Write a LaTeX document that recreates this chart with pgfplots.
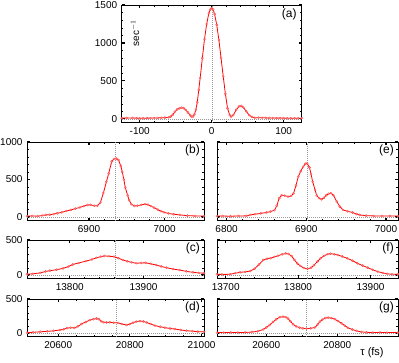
\documentclass[border=0pt]{standalone}
\usepackage{fontspec}
\setmainfont{Liberation Sans}
\usepackage{pgfplots}
\pgfplotsset{compat=1.18}

\pgfplotsset{
  panel/.style={
    scale only axis,
    axis line style={black, line width=0.6pt},
    tick align=inside,
    major tick length=3pt, minor tick length=1.6pt,
    every major tick/.append style={line width=1.1pt, black},
    every minor tick/.append style={line width=0.4pt, black},
    minor x tick num=4, minor y tick num=4,
    tick label style={font=\fontsize{10}{10}\selectfont},
    scaled x ticks=false, scaled y ticks=false,
    /pgf/number format/assume math mode=true,
    /pgf/number format/1000 sep={},
    xticklabel style={yshift=-1pt},
    yticklabel style={xshift=-1pt},
    ymin=-50, clip=true,
  },
  right panel/.style={panel, yticklabels=\empty},
  sig/.style={red, line width=0.8pt, mark=*, mark size=1.1pt,
    mark options={fill=red!25, draw=red!75, line width=0.3pt, fill opacity=0.6}},
}
\tikzset{
  ref/.style={gray!80, dash pattern=on 1pt off 1pt, line width=0.35pt},
  tag/.style={anchor=north east, inner sep=0pt, font=\fontsize{12}{12}\selectfont},
}

\begin{document}
\begin{tikzpicture}[x=1pt, y=1pt]
\path[use as bounding box] (0,0) rectangle (399,362);

% (a)
\begin{axis}[panel, at={(121.7pt,239.3pt)}, anchor=south west,
  width=180pt, height=117.7pt,
  xmin=-125, xmax=125, ymax=1500,
  xtick={-100,0,100}, ytick={0,500,1000,1500}]
\draw[ref] (axis cs:-125,0) -- (axis cs:125,0);
\draw[ref] (axis cs:0,-50) -- (axis cs:0,1500);
\addplot[sig] coordinates {
(-125,10)(-118,12)(-110,12)(-104,9)(-100,8)(-95,9)(-90,10)(-85,11)(-80,12)(-75,13)
(-70,15)(-65,17)(-60,20)(-57,30)(-54,55)(-51,95)(-48,125)(-45,140)(-42,148)(-39,142)
(-36,118)(-33,85)(-30,50)(-28,30)(-26,32)(-24,60)(-22,120)(-20,220)(-18,380)(-16,540)
(-13,800)(-10,1050)(-7,1250)(-4,1390)(-2,1440)(0,1460)(2,1440)(4,1380)(7,1240)(10,1040)
(13,800)(16,560)(19,330)(22,140)(25,50)(27,30)(30,50)(34,120)(38,165)(41,170)
(44,150)(48,100)(52,50)(56,25)(60,15)(65,16)(70,15)(75,14)(80,12)(85,12)(90,10)
(95,11)(100,10)(105,9)(110,8)(115,9)(120,8)(125,10)};
\node[tag] at (rel axis cs:1,1) [xshift=-5pt, yshift=-4pt] {(a)};
\node[rotate=90, font=\fontsize{10}{10}\selectfont] at (axis cs:-106.5,1130) {sec$^{-1}$};
\end{axis}

% (b)
\begin{axis}[panel, at={(27pt,141.25pt)}, anchor=south west,
  width=177pt, height=78.75pt,
  xmin=6818, xmax=7052, ymax=1000,
  xtick={6900,7000}, ytick={0,500,1000}]
\draw[ref] (axis cs:6818,0) -- (axis cs:7052,0);
\draw[ref] (axis cs:6935,-50) -- (axis cs:6935,1000);
\addplot[sig] coordinates {
(6818,12)(6825,15)(6832,10)(6838,20)(6843,28)(6848,30)(6853,38)(6858,50)(6864,62)(6870,80)
(6876,95)(6882,112)(6888,128)(6893,145)(6898,160)(6902,162)(6907,150)(6911,150)(6915,190)
(6919,320)(6923,470)(6926,580)(6930,740)(6933,775)(6936,780)(6939,760)(6942,680)(6944,600)
(6946,500)(6948,390)(6951,290)(6953,225)(6956,170)(6960,148)(6964,150)(6969,162)(6974,172)
(6978,165)(6982,145)(6986,125)(6991,98)(6995,78)(6999,62)(7005,48)(7012,36)(7020,28)
(7030,18)(7040,14)(7052,12)};
\node[tag] at (rel axis cs:1,1) [xshift=-4pt, yshift=-3pt] {(b)};
\end{axis}

% (e)
\begin{axis}[right panel, at={(217pt,141.25pt)}, anchor=south west,
  width=181pt, height=78.75pt,
  xmin=6788, xmax=7015, ymax=1000,
  xtick={6800,6900,7000}, ytick={0,500,1000}]
\draw[ref] (axis cs:6788,0) -- (axis cs:7015,0);
\draw[ref] (axis cs:6901,-50) -- (axis cs:6901,1000);
\addplot[sig] coordinates {
(6788,12)(6795,13)(6805,10)(6815,14)(6825,15)(6830,28)(6836,38)(6843,48)(6850,60)(6855,72)
(6860,90)(6863,150)(6866,250)(6869,290)(6873,285)(6877,272)(6881,280)(6884,315)(6887,420)
(6890,540)(6893,610)(6896,670)(6899,710)(6901,715)(6904,660)(6906,570)(6908,470)(6911,360)
(6913,290)(6916,250)(6919,235)(6922,255)(6925,290)(6928,310)(6931,318)(6934,290)(6938,210)
(6942,140)(6946,95)(6952,75)(6958,60)(6963,40)(6967,27)(6975,18)(6985,14)(6995,12)
(7005,13)(7015,12)};
\node[tag] at (rel axis cs:1,1) [xshift=-4pt, yshift=-3pt] {(e)};
\end{axis}

% (c)
\begin{axis}[panel, at={(27pt,83.5pt)}, anchor=south west,
  width=177pt, height=38.5pt,
  xmin=13742, xmax=13982, ymax=500,
  xtick={13800,13900}, ytick={0,500}]
\draw[ref] (axis cs:13742,0) -- (axis cs:13982,0);
\draw[ref] (axis cs:13862,-50) -- (axis cs:13862,500);
\addplot[sig] coordinates {
(13742,10)(13750,18)(13760,30)(13767,50)(13773,62)(13782,75)(13791,95)(13798,120)(13804,150)
(13812,172)(13822,198)(13830,222)(13836,245)(13842,262)(13847,272)(13853,268)(13860,262)
(13866,240)(13872,215)(13878,195)(13884,180)(13890,168)(13897,172)(13903,174)(13910,160)
(13917,143)(13924,122)(13931,105)(13940,85)(13949,70)(13958,52)(13967,38)(13975,30)(13982,25)};
\node[tag] at (rel axis cs:1,1) [xshift=-4pt, yshift=-3pt] {(c)};
\end{axis}

% (f)
\begin{axis}[right panel, at={(217pt,83.5pt)}, anchor=south west,
  width=181pt, height=38.5pt,
  xmin=13688, xmax=13938, ymax=500,
  xtick={13700,13800,13900}, ytick={0,500}]
\draw[ref] (axis cs:13688,0) -- (axis cs:13938,0);
\draw[ref] (axis cs:13813,-50) -- (axis cs:13813,500);
\addplot[sig] coordinates {
(13688,10)(13695,8)(13706,10)(13713,25)(13720,38)(13727,45)(13734,57)(13740,90)(13746,150)
(13752,215)(13757,232)(13762,240)(13767,258)(13772,275)(13778,295)(13783,308)(13787,300)
(13791,270)(13795,215)(13799,165)(13803,130)(13808,100)(13813,88)(13818,105)(13822,140)
(13827,195)(13831,238)(13836,275)(13841,298)(13845,305)(13850,296)(13855,285)(13861,265)
(13868,238)(13875,205)(13882,167)(13889,135)(13896,105)(13903,75)(13910,48)(13917,30)
(13923,18)(13930,10)(13938,10)};
\node[tag] at (rel axis cs:1,1) [xshift=-4pt, yshift=-3pt] {(f)};
\end{axis}

% (d)
\begin{axis}[panel, at={(27pt,25.3pt)}, anchor=south west,
  width=177pt, height=37.7pt,
  xmin=20513, xmax=21007, ymax=500, minor x tick num=3,
  xtick={20600,20800,21000}, ytick={0,500}]
\draw[ref] (axis cs:20513,0) -- (axis cs:21007,0);
\draw[ref] (axis cs:20761,-50) -- (axis cs:20761,500);
\addplot[sig] coordinates {
(20513,10)(20530,14)(20550,22)(20570,28)(20587,36)(20605,48)(20615,58)(20625,75)(20635,82)
(20645,78)(20655,100)(20665,135)(20677,165)(20688,192)(20698,205)(20707,215)(20714,205)
(20720,175)(20727,160)(20735,158)(20744,160)(20755,155)(20767,152)(20778,135)(20791,120)
(20800,135)(20809,155)(20818,170)(20828,178)(20838,172)(20847,158)(20858,135)(20870,112)
(20885,95)(20898,82)(20912,70)(20926,62)(20942,48)(20958,38)(20975,30)(20990,24)(21007,22)};
\node[tag] at (rel axis cs:1,1) [xshift=-4pt, yshift=-3pt] {(d)};
\end{axis}

% (g)
\begin{axis}[right panel, at={(217pt,25.3pt)}, anchor=south west,
  width=181pt, height=37.7pt,
  xmin=20461, xmax=20971, ymax=500, minor x tick num=3,
  xtick={20600,20800}, ytick={0,500}]
\draw[ref] (axis cs:20461,0) -- (axis cs:20971,0);
\draw[ref] (axis cs:20713,-50) -- (axis cs:20713,500);
\addplot[sig] coordinates {
(20461,10)(20480,10)(20500,12)(20520,10)(20540,12)(20560,18)(20575,28)(20591,55)(20600,85)
(20609,120)(20619,165)(20628,205)(20638,235)(20647,242)(20655,235)(20661,215)(20668,175)
(20675,132)(20684,100)(20694,82)(20703,72)(20713,68)(20725,72)(20737,85)(20745,130)
(20751,170)(20758,200)(20766,222)(20774,228)(20783,222)(20793,205)(20802,178)(20812,145)
(20821,112)(20830,80)(20842,55)(20854,35)(20868,20)(20882,14)(20900,10)(20920,12)
(20940,10)(20971,10)};
\node[tag] at (rel axis cs:1,1) [xshift=-4pt, yshift=-3pt] {(g)};
\end{axis}

\node[font=\fontsize{11}{11}\selectfont] at (372,9) {τ (fs)};
\end{tikzpicture}
\end{document}
